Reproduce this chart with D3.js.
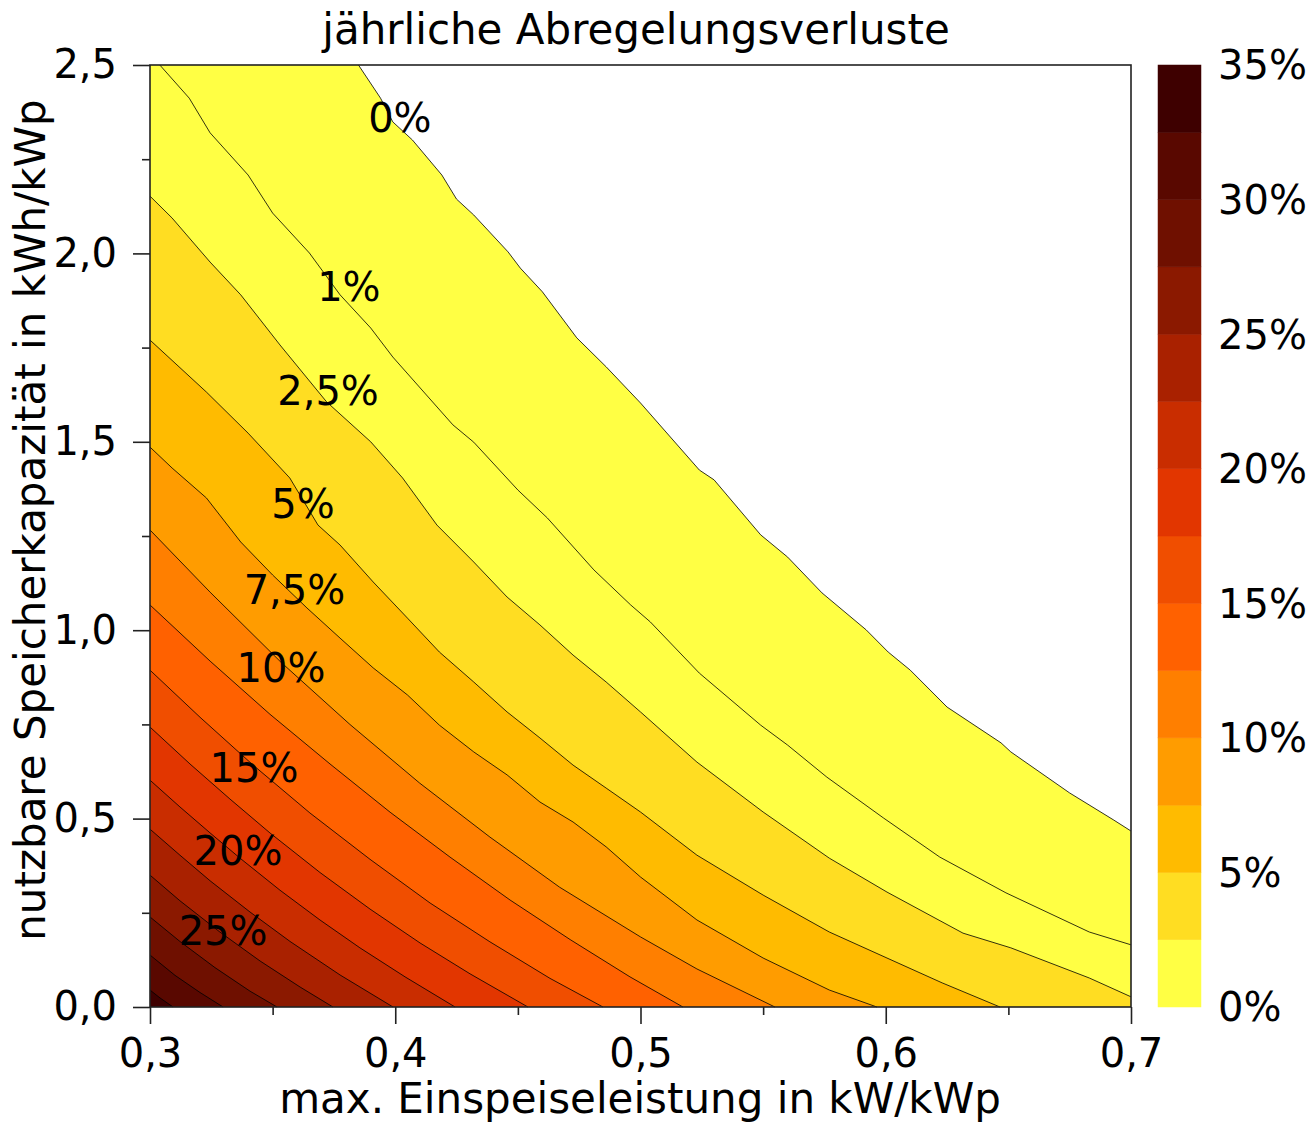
<!DOCTYPE html>
<html>
<head>
<meta charset="utf-8">
<script src="https://cdn.jsdelivr.net/npm/d3@7"></script>
<style>
  body { margin: 0; background: #fff; }
  svg text { font-family: "DejaVu Sans", Verdana, sans-serif; fill: #000; }
</style>
</head>
<body>
<div id="chart"></div>
<script>
////////
// Data: contour lines of the annual curtailment losses.
// Each point is [max. feed-in power in kW/kWp, usable storage in kWh/kWp].
// Lines start on the top/left edge and end on the right/bottom edge.

let levels = [0, 1, 2.5, 5, 7.5, 10, 12.5, 15, 17.5, 20, 22.5, 25, 27.5, 30, 32.5];

let line0 = [[0.385,2.5],[0.394,2.412],[0.399,2.349],[0.407,2.301],[0.419,2.208],[0.425,2.144],
  [0.432,2.102],[0.446,2.004],[0.451,1.961],[0.460,1.898],[0.474,1.776],[0.486,1.699],[0.500,1.603],
  [0.524,1.425],[0.530,1.399],[0.549,1.253],[0.560,1.194],[0.574,1.099],[0.592,1.001],[0.601,0.942],
  [0.610,0.894],[0.625,0.796],[0.647,0.701],[0.651,0.677],[0.675,0.568],[0.693,0.496],[0.700,0.467]];
let line1 = [[0.304,2.5],[0.316,2.412],[0.3245,2.320],[0.340,2.208],[0.350,2.107],[0.365,2.001],
  [0.3775,1.890],[0.390,1.802],[0.399,1.725],[0.4235,1.545],[0.432,1.499],[0.450,1.372],[0.462,1.298],
  [0.481,1.160],[0.496,1.067],[0.504,1.022],[0.524,0.886],[0.549,0.748],[0.560,0.695],[0.576,0.610],
  [0.599,0.502],[0.622,0.398],[0.649,0.303],[0.683,0.199],[0.700,0.165]];
let line2_5 = [[0.300,2.152],[0.309,2.094],[0.3245,1.977],[0.337,1.890],[0.353,1.757],[0.372,1.606],
  [0.390,1.500],[0.403,1.404],[0.417,1.279],[0.432,1.181],[0.4456,1.088],[0.459,1.014],[0.4725,0.934],
  [0.486,0.8625],[0.500,0.783],[0.523,0.650],[0.550,0.5175],[0.577,0.395],[0.6005,0.305],[0.6315,0.196],
  [0.651,0.157],[0.683,0.077],[0.700,0.027]];
let line5 = [[0.300,1.770],[0.323,1.632],[0.340,1.523],[0.357,1.404],[0.3685,1.279],[0.3775,1.226],
  [0.391,1.128],[0.405,1.032],[0.418,0.942],[0.432,0.8625],[0.4456,0.783],[0.459,0.714],[0.4725,0.642],
  [0.486,0.581],[0.500,0.5175],[0.523,0.403],[0.550,0.297],[0.577,0.199],[0.6005,0.130],[0.623,0.064],
  [0.6466,0]];
let line7_5 = [[0.300,1.486],[0.309,1.4305],[0.323,1.351],[0.337,1.234],[0.350,1.1465],[0.364,1.059],
  [0.3775,0.979],[0.391,0.900],[0.405,0.828],[0.418,0.748],[0.432,0.677],[0.4456,0.616],[0.459,0.544],
  [0.4725,0.491],[0.486,0.425],[0.500,0.345],[0.523,0.231],[0.550,0.130],[0.577,0.045],[0.5964,0]];
let line10 = [[0.300,1.266],[0.3245,1.101],[0.3534,0.915],[0.3815,0.750],[0.410,0.594],[0.4386,0.451],
  [0.467,0.318],[0.500,0.186],[0.523,0.101],[0.5548,0]];
let line12_5 = [[0.300,1.067],[0.3245,0.918],[0.3489,0.777],[0.3734,0.645],[0.3979,0.517],[0.4223,0.398],
  [0.4468,0.284],[0.4713,0.179],[0.4957,0.080],[0.5173,0]];
let line15 = [[0.300,0.894],[0.3204,0.769],[0.3424,0.640],[0.3652,0.515],[0.3897,0.392],[0.4142,0.276],
  [0.4386,0.173],[0.4631,0.076],[0.4847,0]];
let line17_5 = [[0.300,0.743],[0.3163,0.645],[0.3326,0.552],[0.3489,0.462],[0.3693,0.357],[0.3897,0.260],
  [0.4101,0.170],[0.4305,0.088],[0.4541,0]];
let line20 = [[0.300,0.602],[0.3122,0.531],[0.3245,0.462],[0.3367,0.395],[0.353,0.310],[0.3693,0.231],
  [0.3856,0.157],[0.404,0.080],[0.4244,0]];
let line22_5 = [[0.300,0.472],[0.3122,0.403],[0.3245,0.335],[0.3408,0.252],[0.3571,0.174],[0.3775,0.085],
  [0.3991,0]];
let line25 = [[0.300,0.350],[0.3122,0.282],[0.3285,0.199],[0.3449,0.122],[0.3612,0.053],[0.3746,0]];
let line27_5 = [[0.300,0.239],[0.3122,0.174],[0.3265,0.1045],[0.3408,0.042],[0.3518,0]];
let line30 = [[0.300,0.138],[0.3102,0.084],[0.3204,0.0385],[0.3298,0]];
let line32_5 = [[0.300,0.045],[0.3041,0.024],[0.3094,0]];

let contourLines = [line0, line1, line2_5, line5, line7_5, line10, line12_5, line15,
  line17_5, line20, line22_5, line25, line27_5, line30, line32_5];

// colour bands of the colour bar (2,5 % steps)
let bandEdges = [0, 2.5, 5, 7.5, 10, 12.5, 15, 17.5, 20, 22.5, 25, 27.5, 30, 32.5, 35];
let bandColors = ["#ffff44", "#ffdd22", "#ffbb00", "#ff9c00", "#ff7f00", "#ff6100", "#f04e00",
  "#e23600", "#c92d00", "#a92100", "#8b1900", "#6f1000", "#590800", "#3e0000"];
let colorbarTicks = [0, 5, 10, 15, 20, 25, 30, 35];

// inline contour labels
let labelTexts = ["0%", "1%", "2,5%", "5%", "7,5%", "10%", "15%", "20%", "25%"];
let labelX = [0.4019, 0.3811, 0.3726, 0.3624, 0.3589, 0.3534, 0.3424, 0.3359, 0.3298];
let labelY = [2.361, 1.913, 1.635, 1.335, 1.109, 0.901, 0.636, 0.414, 0.202];

// axes
let xTicks = [0.3, 0.4, 0.5, 0.6, 0.7];
let xMinorTicks = [0.35, 0.45, 0.55, 0.65];
let yTicks = [0, 0.5, 1.0, 1.5, 2.0, 2.5];
let yMinorTicks = [0.25, 0.75, 1.25, 1.75, 2.25];


////////
// SVG canvas
let svg_width = 1310;
let svg_height = 1122;

let plotLeft = 150, plotRight = 1131, plotTop = 65, plotBottom = 1007;

let svg = d3.select("#chart")
  .append("svg")
  .attr("width", svg_width)
  .attr("height", svg_height);


////////
// Scales
let xScale = d3.scaleLinear()
  .domain([0.3, 0.7])
  .range([plotLeft, plotRight]);

let yScale = d3.scaleLinear()
  .domain([0, 2.5])
  .range([plotBottom, plotTop]);

let cScale = d3.scaleLinear()
  .domain([0, 35])
  .range([plotBottom, plotTop]);

let bandColor = function(v) {
  return bandColors[Math.min(bandColors.length - 1, Math.floor(v / 2.5))];
};

let comma = d3.format(".1f");
let fmt = function(v) { return comma(v).replace(".", ","); };


////////
// Filled regions: everything below/left of each contour line is painted with
// the colour of the band just above that level, lowest level first.
let line = d3.line()
  .x(function(d) { return xScale(d[0]); })
  .y(function(d) { return yScale(d[1]); });

let regionOf = function(pts) {
  let first = pts[0], last = pts[pts.length - 1];
  let poly = pts.slice();
  if (last[1] > 0) poly.push([0.7, 0]);
  poly.push([0.3, 0]);
  if (first[0] > 0.3) poly.push([0.3, 2.5]);
  return poly;
};

svg.append("g")
  .selectAll("path")
  .data(contourLines)
  .enter()
  .append("path")
  .attr("d", function(d) { return line(regionOf(d)) + "Z"; })
  .attr("fill", function(d, i) { return bandColor(levels[i]); })
  .attr("stroke", "none");

svg.append("g")
  .selectAll("path")
  .data(contourLines)
  .enter()
  .append("path")
  .attr("d", function(d) { return line(d); })
  .attr("fill", "none")
  .attr("stroke", "#000")
  .attr("stroke-width", 0.8);

svg.append("g")
  .selectAll("text")
  .data(labelTexts)
  .enter()
  .append("text")
  .attr("x", function(d, i) { return xScale(labelX[i]); })
  .attr("y", function(d, i) { return yScale(labelY[i]); })
  .attr("dy", "0.36em")
  .attr("text-anchor", "middle")
  .style("font-size", "40px")
  .text(function(d) { return d; });


////////
// Axes (major + minor ticks, outward)
let xAxis = d3.axisBottom(xScale).tickValues(xTicks).tickFormat(fmt)
  .tickSize(17).tickSizeOuter(0).tickPadding(15);
let xMinor = d3.axisBottom(xScale).tickValues(xMinorTicks).tickFormat("")
  .tickSize(8).tickSizeOuter(0);
let yAxis = d3.axisLeft(yScale).tickValues(yTicks).tickFormat(fmt)
  .tickSize(17).tickSizeOuter(0).tickPadding(16);
let yMinor = d3.axisLeft(yScale).tickValues(yMinorTicks).tickFormat("")
  .tickSize(8).tickSizeOuter(0);

[[xAxis, `translate(0,${plotBottom})`], [xMinor, `translate(0,${plotBottom})`],
 [yAxis, `translate(${plotLeft},0)`], [yMinor, `translate(${plotLeft},0)`]].forEach(function(a) {
  let g = svg.append("g").attr("transform", a[1]).call(a[0]);
  g.select(".domain").remove();
  g.selectAll("line").attr("stroke", "#222").attr("stroke-width", 1.6);
  g.selectAll("text").style("font-size", "40px").attr("fill", "#000");
});

// frame
svg.append("rect")
  .attr("x", plotLeft)
  .attr("y", plotTop)
  .attr("width", plotRight - plotLeft)
  .attr("height", plotBottom - plotTop)
  .attr("fill", "none")
  .attr("stroke", "#222")
  .attr("stroke-width", 1.6);


////////
// Colour bar
let cbLeft = 1158, cbWidth = 43;

svg.append("g")
  .selectAll("rect")
  .data(bandColors)
  .enter()
  .append("rect")
  .attr("x", cbLeft)
  .attr("y", function(d, i) { return cScale(bandEdges[i + 1]); })
  .attr("width", cbWidth)
  .attr("height", function(d, i) { return cScale(bandEdges[i]) - cScale(bandEdges[i + 1]); })
  .attr("fill", function(d) { return d; })
  .attr("stroke", function(d) { return d; })
  .attr("stroke-width", 0.5);

svg.append("g")
  .selectAll("text")
  .data(colorbarTicks)
  .enter()
  .append("text")
  .attr("x", 1218)
  .attr("y", function(d) { return cScale(d); })
  .attr("dy", "0.36em")
  .style("font-size", "40px")
  .text(function(d) { return d + "%"; });


////////
// Titles
svg.append("text")
  .attr("x", 636)
  .attr("y", 44)
  .attr("text-anchor", "middle")
  .style("font-size", "42px")
  .text("jährliche Abregelungsverluste");

svg.append("text")
  .attr("x", 640)
  .attr("y", 1113)
  .attr("text-anchor", "middle")
  .style("font-size", "42px")
  .text("max. Einspeiseleistung in kW/kWp");

svg.append("text")
  .attr("transform", "translate(45,520) rotate(-90)")
  .attr("text-anchor", "middle")
  .style("font-size", "42px")
  .text("nutzbare Speicherkapazität in kWh/kWp");
</script>
</body>
</html>
